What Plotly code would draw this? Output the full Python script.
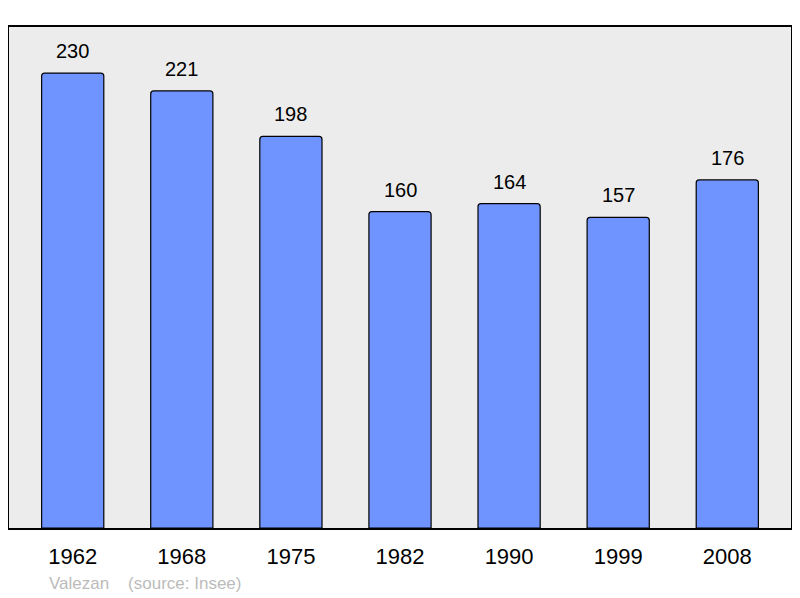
import plotly.graph_objects as go

years = ["1962", "1968", "1975", "1982", "1990", "1999", "2008"]
population = [230, 221, 198, 160, 164, 157, 176]

fig = go.Figure()
fig.add_trace(go.Bar(
    x=years, y=population, width=0.57,
    marker=dict(color="#7094ff", line=dict(color="black", width=1.2), cornerradius=3),
    hoverinfo="skip",
))
for i, v in enumerate(population):
    fig.add_annotation(x=i, y=v, xref="x", yref="y", text=str(v), showarrow=False,
                       yshift=22, font=dict(size=20, color="black", family="Liberation Sans, Arial"))

fig.add_annotation(xref="paper", yref="paper", x=(47 - 9) / 784, y=-(583 - 528) / 501,
                   xanchor="left", yanchor="middle", showarrow=False,
                   text="Valezan\u00a0\u00a0\u00a0\u00a0(source: Insee)",
                   font=dict(size=17, color="#bbbbbb", family="Liberation Sans, Arial"))

fig.update_layout(
    width=786, height=584,
    margin=dict(l=1, r=1, t=19, b=64),
    paper_bgcolor="white", plot_bgcolor="#ececec",
    showlegend=False,
    font=dict(family="Liberation Sans, Arial", color="black"),
    xaxis=dict(type="category", range=[-0.584, 6.584], showgrid=False, zeroline=False, ticks="",
               showline=True, mirror=True, linecolor="black", linewidth=2,
               tickfont=dict(size=22, color="black"), ticklabelstandoff=8, fixedrange=True),
    yaxis=dict(range=[0, 253.3], showgrid=False, zeroline=False, showticklabels=False,
               showline=True, mirror=True, linecolor="black", linewidth=2,
               ticks="", fixedrange=True),
)
fig.write_html("out.html")
